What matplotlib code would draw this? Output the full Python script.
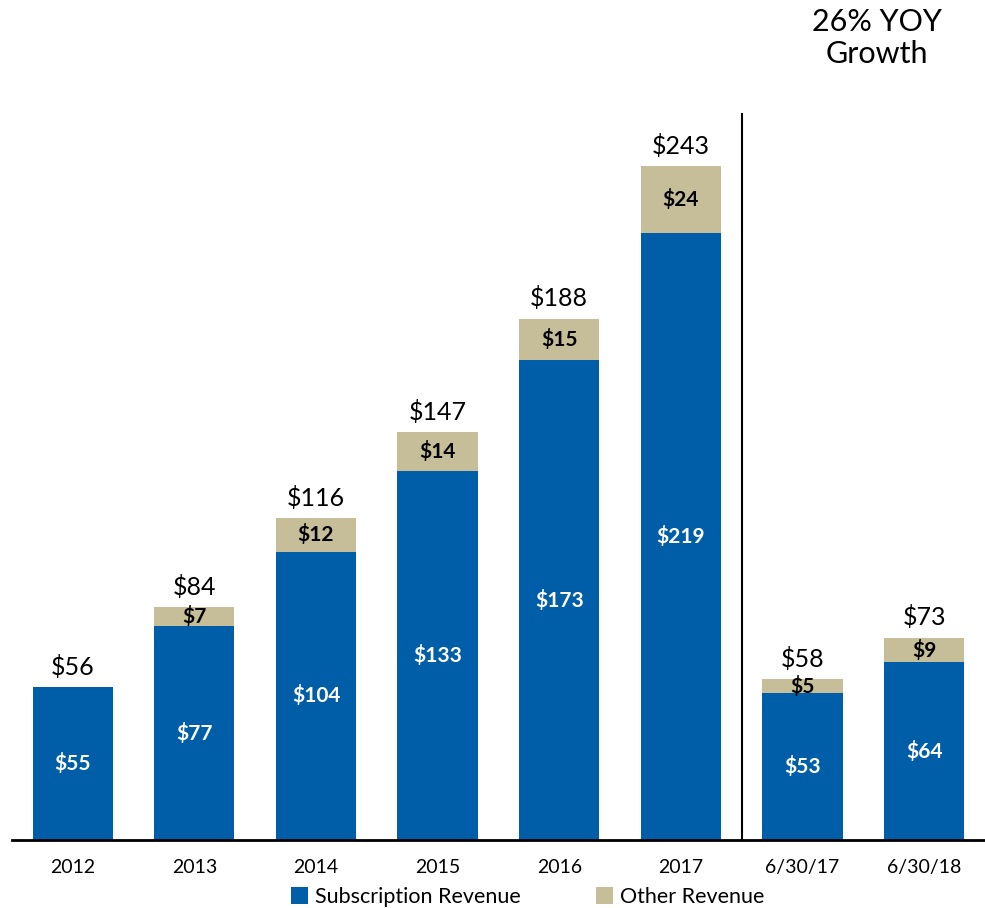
import matplotlib.pyplot as plt
import numpy as np

plt.rcParams['font.family'] = ['Lato', 'DejaVu Sans']

periods = ["2012", "2013", "2014", "2015", "2016", "2017", "6/30/17", "6/30/18"]
subscription = [55, 77, 104, 133, 173, 219, 53, 64]
other = [0, 7, 12, 14, 15, 24, 5, 9]
totals = [56, 84, 116, 147, 188, 243, 58, 73]

blue = "#005EA8"
tan = "#C6BD99"

fig = plt.figure(figsize=(9.85, 9.08), dpi=100)
ax = fig.add_axes([0.012, 0.075, 0.988, 0.925])

x = np.arange(len(periods))
w = 0.66
ax.bar(x, subscription, w, color=blue, label="Subscription Revenue")
ax.bar(x, other, w, bottom=subscription, color=tan, label="Other Revenue")

for i in range(len(periods)):
    ax.text(x[i], subscription[i] / 2, f"${subscription[i]}", ha='center', va='center',
            color='white', fontsize=15, fontweight='bold')
    if other[i] > 0:
        ax.text(x[i], subscription[i] + other[i] / 2, f"${other[i]}", ha='center', va='center',
                color='black', fontsize=15, fontweight='bold')
    ax.annotate(f"${totals[i]}", (x[i], subscription[i] + other[i]), xytext=(0, 6),
                textcoords='offset points', ha='center', va='bottom', fontsize=18)

# divider between annual and half-year figures
ax.plot([5.5, 5.5], [0, 262], color='black', lw=1.5)
ax.text(6.61, 300, "26% YOY\nGrowth", ha='center', va='top', fontsize=22, linespacing=1.15)

ax.set_xlim(-0.5, 7.5)
ax.set_ylim(0, 303)
ax.set_xticks(x)
ax.set_xticklabels(periods, fontsize=14)
ax.tick_params(axis='x', length=0, pad=14)
ax.set_yticks([])
for s in ['top', 'right', 'left']:
    ax.spines[s].set_visible(False)
ax.spines['bottom'].set_linewidth(2)

ax.legend(loc='upper center', bbox_to_anchor=(0.53, -0.056), ncol=2, frameon=False,
          fontsize=15.5, handlelength=0.8, handleheight=0.8, handletextpad=0.3,
          columnspacing=3.5, borderpad=0, borderaxespad=0)

fig.savefig("out.png", dpi=100)
